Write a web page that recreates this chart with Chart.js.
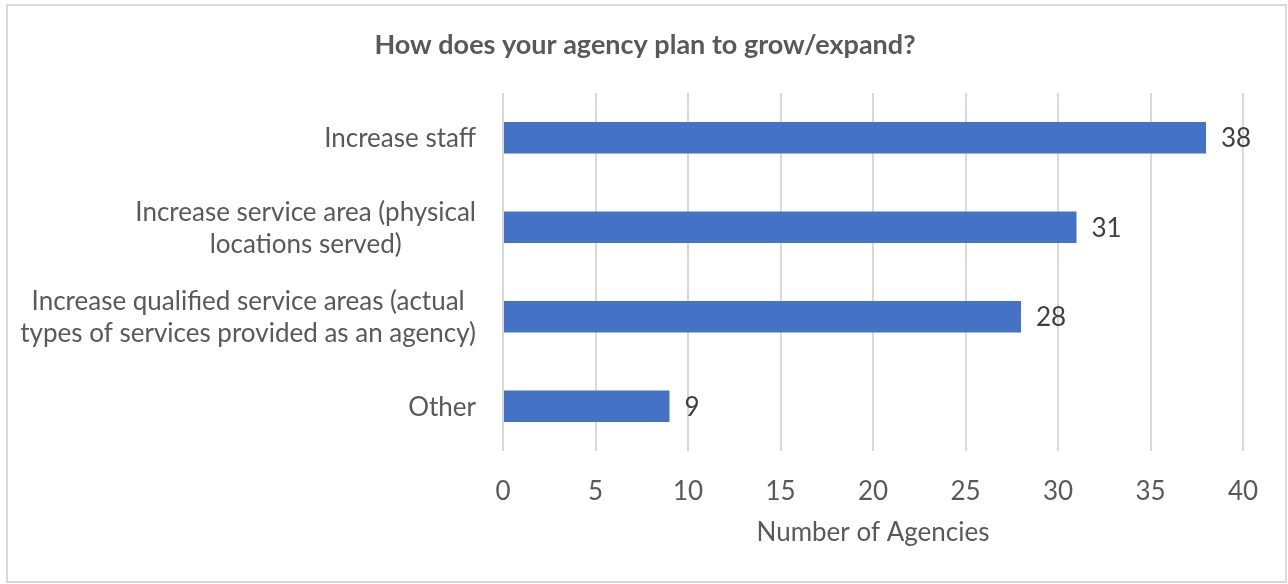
<!DOCTYPE html>
<html>
<head>
<meta charset="utf-8">
<script src="https://cdn.jsdelivr.net/npm/chart.js@4.4.1/dist/chart.umd.min.js"></script>
<style>
  html, body { margin: 0; padding: 0; background: #ffffff; }
  #wrap { width: 1288px; height: 584px; }
</style>
</head>
<body>
<div id="wrap"><canvas id="chart" width="1288" height="584"></canvas></div>
<script>
// Survey: planned ways of growing / expanding
const chartTitle = 'How does your agency plan to grow/expand?';
const categories = [
  ['Increase staff'],
  ['Increase service area (physical', 'locations served)'],
  ['Increase qualified service areas (actual', 'types of services provided as an agency)'],
  ['Other']
];
const agencyCounts = [38, 31, 28, 9];
const xAxisMin = 0;
const xAxisMax = 40;
const xAxisStep = 5;
const xAxisTitle = 'Number of Agencies';

const FONT = 'Lato, "Open Sans", sans-serif';
const TEXT_GREY = '#595959';
const LABEL_DARK = '#404040';
const LABEL_SIZE = 26;

// White background, thin grey frame and the centred chart title
const framePlugin = {
  id: 'frame',
  beforeDraw(chart) {
    const ctx = chart.ctx;
    ctx.save();
    ctx.fillStyle = '#ffffff';
    ctx.fillRect(0, 0, chart.width, chart.height);
    ctx.strokeStyle = '#d9d9d9';
    ctx.lineWidth = 2;
    ctx.strokeRect(7, 5, chart.width - 9, chart.height - 7);
    ctx.font = 'bold 27px ' + FONT;
    ctx.fillStyle = TEXT_GREY;
    ctx.textAlign = 'center';
    ctx.textBaseline = 'middle';
    ctx.fillText(chartTitle, 645, 45);
    ctx.restore();
  }
};

// Category names: block right-aligned against the plot, lines centred within the block
const categoryLabelPlugin = {
  id: 'categoryLabels',
  afterDraw(chart) {
    const ctx = chart.ctx;
    const yScale = chart.scales.y;
    const right = chart.chartArea.left - 27;
    const lineHeight = 32;
    ctx.save();
    ctx.font = LABEL_SIZE + 'px ' + FONT;
    ctx.fillStyle = TEXT_GREY;
    ctx.textAlign = 'center';
    ctx.textBaseline = 'middle';
    categories.forEach((lines, i) => {
      const yc = yScale.getPixelForValue(i) + 1;
      const maxW = Math.max(...lines.map(l => ctx.measureText(l).width));
      const xc = right - maxW / 2;
      const y0 = yc - (lines.length - 1) * lineHeight / 2;
      lines.forEach((l, k) => ctx.fillText(l, xc, y0 + k * lineHeight));
    });
    ctx.restore();
  }
};

// Value labels just past the end of each bar
const valueLabelPlugin = {
  id: 'valueLabels',
  afterDatasetsDraw(chart) {
    const ctx = chart.ctx;
    const meta = chart.getDatasetMeta(0);
    ctx.save();
    ctx.font = LABEL_SIZE + 'px ' + FONT;
    ctx.fillStyle = LABEL_DARK;
    ctx.textAlign = 'left';
    ctx.textBaseline = 'middle';
    meta.data.forEach((bar, i) => {
      ctx.fillText(String(agencyCounts[i]), bar.x + 15, bar.y + 1);
    });
    ctx.restore();
  }
};

new Chart(document.getElementById('chart'), {
  type: 'bar',
  data: {
    labels: categories.map(l => l.join(' ')),
    datasets: [{
      data: agencyCounts,
      backgroundColor: '#4472c4',
      borderWidth: 0,
      categoryPercentage: 1,
      barPercentage: 0.352
    }]
  },
  plugins: [framePlugin, categoryLabelPlugin, valueLabelPlugin],
  options: {
    indexAxis: 'y',
    responsive: false,
    animation: false,
    devicePixelRatio: 1,
    layout: { padding: { left: 503, right: 45, top: 93, bottom: 36 } },
    plugins: {
      legend: { display: false },
      tooltip: { enabled: false },
      title: { display: false }
    },
    scales: {
      y: { display: false },
      x: {
        min: xAxisMin,
        max: xAxisMax,
        afterFit(scale) { scale.height = 97; },
        ticks: {
          stepSize: xAxisStep,
          color: TEXT_GREY,
          font: { family: FONT, size: LABEL_SIZE, lineHeight: 1.2 },
          padding: 25
        },
        grid: { color: '#d9d9d9', lineWidth: 2, drawTicks: false },
        border: { display: false },
        title: {
          display: true,
          text: xAxisTitle,
          color: TEXT_GREY,
          font: { family: FONT, size: LABEL_SIZE, lineHeight: 1.2 },
          padding: { top: 0, bottom: 0 }
        }
      }
    }
  }
});
</script>
</body>
</html>
